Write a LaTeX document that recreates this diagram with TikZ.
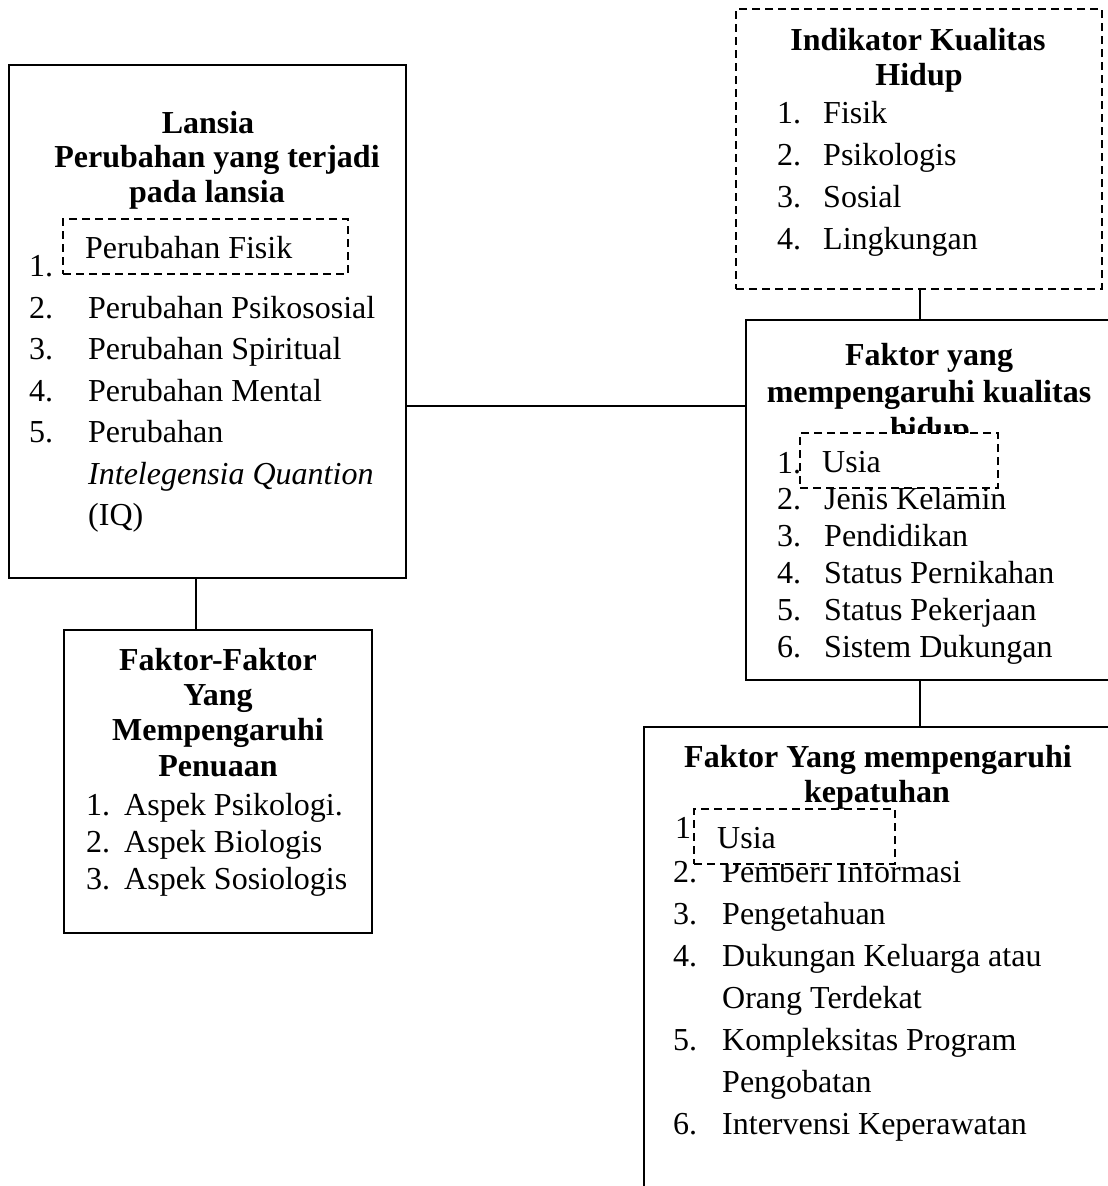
\documentclass[tikz,border=0pt]{standalone}
\usepackage{fontspec}
\setmainfont{Liberation Serif}
\begin{document}
\begin{tikzpicture}[x=1pt,y=-1pt,
  box/.style={draw, line width=2pt, inner sep=0pt, outer sep=0pt},
  dbox/.style={draw, dash pattern=on 8pt off 5pt, line width=2pt, fill=white, inner sep=0pt, outer sep=0pt},
  conn/.style={line width=2pt},
  tx/.style={anchor=base west, inner sep=0pt, font=\fontsize{32}{38}\selectfont},
  hd/.style={anchor=base, inner sep=0pt, font=\fontsize{32}{38}\selectfont\bfseries}]
\useasboundingbox (0,0) rectangle (1108,1186);
\clip (0,0) rectangle (1108,1186);

% boxes
\node[box, minimum width=397pt, minimum height=513pt] (lansia) at (207.5,321.5) {};
\node[box, minimum width=308pt, minimum height=303pt] (pen) at (218,781.5) {};
\node[box, dash pattern=on 8pt off 5pt, minimum width=366pt, minimum height=280pt] (ind) at (919,149) {};
\node[box, minimum width=379pt, minimum height=360pt] (fak) at (935.5,500) {};
\node[box, minimum width=481pt, minimum height=473pt] (kep) at (884.5,963.5) {};

% connectors
\coordinate (hz) at (0,406);
\coordinate (vl) at (196,0);
\coordinate (vr) at (920,0);
\draw[conn] (lansia.east |- hz) -- (fak.west |- hz);
\draw[conn] (lansia.south -| vl) -- (pen.north -| vl);
\draw[conn] (ind.south -| vr) -- (fak.north -| vr);
\draw[conn] (fak.south -| vr) -- (kep.north -| vr);

% Lansia
\node[hd] (l1) at (208,133) {Lansia};
\node[hd] (l2) at (217,167) {Perubahan yang terjadi};
\node[hd] (l3) at (207,202) {pada lansia};
\node[dbox, minimum width=285pt, minimum height=55pt] (fisikbox) at (205.5,246.5) {};
\node[tx] (ln1) at (29,276) {1.};
\node[tx] (lt1) at (85,258) {Perubahan Fisik};
\node[tx] (ln2) at (29,318) {2.};
\node[tx] (lt2) at (88,318) {Perubahan Psikososial};
\node[tx] (ln3) at (29,359.5) {3.};
\node[tx] (lt3) at (88,359.5) {Perubahan Spiritual};
\node[tx] (ln4) at (29,401) {4.};
\node[tx] (lt4) at (88,401) {Perubahan Mental};
\node[tx] (ln5) at (29,442.5) {5.};
\node[tx] (lt5) at (88,442.5) {Perubahan};
\node[tx] (lt6) at (88,484) {\itshape Intelegensia Quantion};
\node[tx] (lt7) at (88,525.5) {(IQ)};

% Faktor-Faktor penuaan
\node[hd] (p1) at (218,670) {Faktor-Faktor};
\node[hd] (p2) at (218,705) {Yang};
\node[hd] (p3) at (218,740) {Mempengaruhi};
\node[hd] (p4) at (218,776) {Penuaan};
\node[tx] (pn1) at (86,815) {1.};
\node[tx] (pt1) at (124,815) {Aspek Psikologi.};
\node[tx] (pn2) at (86,852) {2.};
\node[tx] (pt2) at (124,852) {Aspek Biologis};
\node[tx] (pn3) at (86,889) {3.};
\node[tx] (pt3) at (124,889) {Aspek Sosiologis};

% Indikator
\node[hd] (i1) at (918,50) {Indikator Kualitas};
\node[hd] (i2) at (919,85) {Hidup};
\node[tx] (in1) at (777,123) {1.};
\node[tx] (it1) at (823,123) {Fisik};
\node[tx] (in2) at (777,165) {2.};
\node[tx] (it2) at (823,165) {Psikologis};
\node[tx] (in3) at (777,207) {3.};
\node[tx] (it3) at (823,207) {Sosial};
\node[tx] (in4) at (777,249) {4.};
\node[tx] (it4) at (823,249) {Lingkungan};

% Faktor kualitas hidup
\node[hd] (f1) at (929,365) {Faktor yang};
\node[hd] (f2) at (929,402) {mempengaruhi kualitas};
\node[hd] (f3) at (930,439) {hidup};
\node[tx] (fn2) at (777,509) {2.};
\node[tx] (ft2) at (824,509) {Jenis Kelamin};
\node[dbox, minimum width=198pt, minimum height=55pt] (usia1box) at (899,460.5) {};
\node[tx] (fn1) at (777,473) {1.};
\node[tx] (ft1) at (822,472) {Usia};
\node[tx] (fn3) at (777,546) {3.};
\node[tx] (ft3) at (824,546) {Pendidikan};
\node[tx] (fn4) at (777,583) {4.};
\node[tx] (ft4) at (824,583) {Status Pernikahan};
\node[tx] (fn5) at (777,620) {5.};
\node[tx] (ft5) at (824,620) {Status Pekerjaan};
\node[tx] (fn6) at (777,657) {6.};
\node[tx] (ft6) at (824,657) {Sistem Dukungan};

% Kepatuhan
\node[hd] (k1) at (878,767) {Faktor Yang mempengaruhi};
\node[hd] (k2) at (877,802) {kepatuhan};
\node[tx] (kn1) at (675,838) {1.};
\node[tx] (kn2) at (673,882) {2.};
\node[tx] (kt2) at (722,882) {Pemberi Informasi};
\node[dbox, minimum width=201pt, minimum height=55pt] (usia2box) at (794.5,836.5) {};
\node[tx] (kt1) at (717,848) {Usia};
\node[tx] (kn3) at (673,924) {3.};
\node[tx] (kt3) at (722,924) {Pengetahuan};
\node[tx] (kn4) at (673,966) {4.};
\node[tx] (kt4) at (722,966) {Dukungan Keluarga atau};
\node[tx] (kt4b) at (722,1008) {Orang Terdekat};
\node[tx] (kn5) at (673,1050) {5.};
\node[tx] (kt5) at (722,1050) {Kompleksitas Program};
\node[tx] (kt5b) at (722,1092) {Pengobatan};
\node[tx] (kn6) at (673,1134) {6.};
\node[tx] (kt6) at (722,1134) {Intervensi Keperawatan};
\end{tikzpicture}
\end{document}
